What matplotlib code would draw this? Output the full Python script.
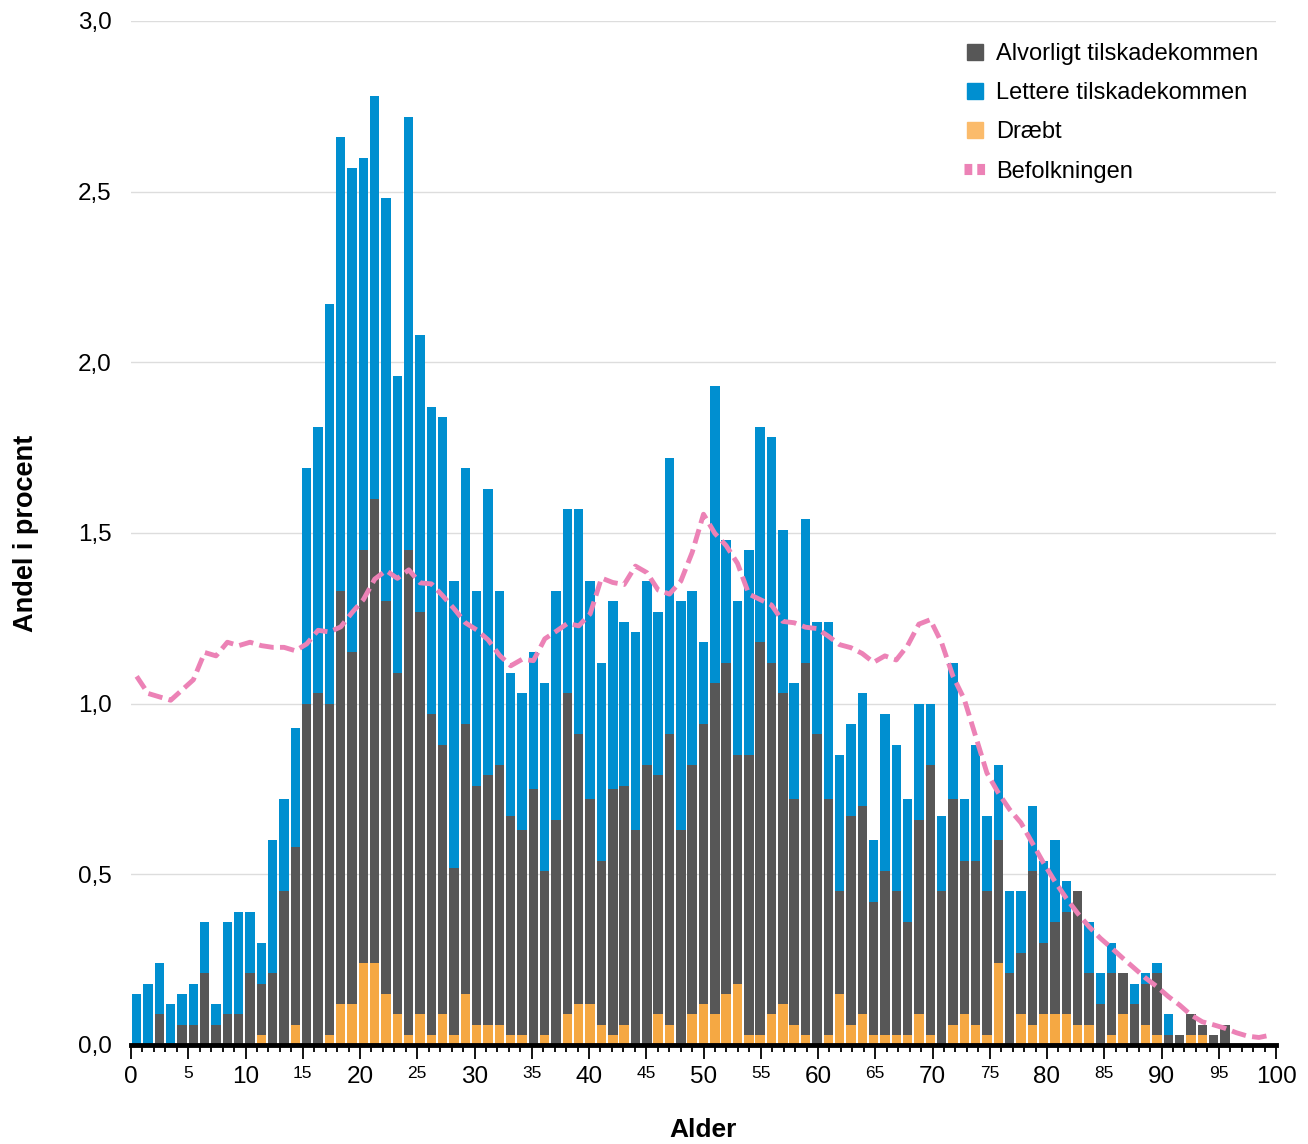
import numpy as np
import matplotlib
matplotlib.use("Agg")
import matplotlib.pyplot as plt
from matplotlib.lines import Line2D

plt.rcParams['font.family'] = ['Liberation Sans', 'DejaVu Sans']

# ages 0..100
ages = np.arange(101)

# Lettere tilskadekommen (andel i procent)
lettere = [0.15, 0.18, 0.24, 0.12, 0.15, 0.18, 0.36, 0.12, 0.36, 0.39,
           0.39, 0.30, 0.60, 0.72, 0.93, 1.69, 1.81, 2.17, 2.66, 2.57,
           2.60, 2.78, 2.48, 1.96, 2.72, 2.08, 1.87, 1.84, 1.36, 1.69,
           1.33, 1.63, 1.33, 1.09, 1.03, 1.15, 1.06, 1.33, 1.57, 1.57,
           1.36, 1.12, 1.30, 1.24, 1.21, 1.36, 1.27, 1.72, 1.30, 1.33,
           1.18, 1.93, 1.48, 1.30, 1.45, 1.81, 1.78, 1.51, 1.06, 1.54,
           1.24, 1.24, 0.85, 0.94, 1.03, 0.60, 0.97, 0.88, 0.72, 1.00,
           1.00, 0.67, 1.12, 0.72, 0.88, 0.67, 0.82, 0.45, 0.45, 0.70,
           0.54, 0.60, 0.48, 0.42, 0.36, 0.21, 0.30, 0.18, 0.18, 0.21,
           0.24, 0.09, 0.00, 0.06, 0.06, 0.00, 0.06, 0.00, 0.00, 0.00,
           0.00]

# Alvorligt tilskadekommen
alvorligt = [0.00, 0.00, 0.09, 0.00, 0.06, 0.06, 0.21, 0.06, 0.09, 0.09,
             0.21, 0.18, 0.21, 0.45, 0.58, 1.00, 1.03, 1.00, 1.33, 1.15,
             1.45, 1.60, 1.30, 1.09, 1.45, 1.27, 0.97, 0.88, 0.52, 0.94,
             0.76, 0.79, 0.82, 0.67, 0.63, 0.75, 0.51, 0.66, 1.03, 0.91,
             0.72, 0.54, 0.75, 0.76, 0.63, 0.82, 0.79, 0.91, 0.63, 0.82,
             0.94, 1.06, 1.12, 0.85, 0.85, 1.18, 1.12, 1.03, 0.72, 1.12,
             0.91, 0.72, 0.45, 0.67, 0.70, 0.42, 0.51, 0.45, 0.36, 0.66,
             0.82, 0.45, 0.72, 0.54, 0.54, 0.45, 0.60, 0.21, 0.27, 0.51,
             0.30, 0.36, 0.39, 0.45, 0.21, 0.12, 0.21, 0.21, 0.12, 0.18,
             0.21, 0.03, 0.03, 0.09, 0.06, 0.03, 0.06, 0.00, 0.00, 0.00,
             0.00]

# Dræbt
draebt = [0.00, 0.00, 0.00, 0.00, 0.00, 0.00, 0.00, 0.00, 0.00, 0.00,
          0.00, 0.03, 0.00, 0.00, 0.06, 0.00, 0.00, 0.03, 0.12, 0.12,
          0.24, 0.24, 0.15, 0.09, 0.03, 0.09, 0.03, 0.09, 0.03, 0.15,
          0.06, 0.06, 0.06, 0.03, 0.03, 0.00, 0.03, 0.00, 0.09, 0.12,
          0.12, 0.06, 0.03, 0.06, 0.00, 0.00, 0.09, 0.06, 0.00, 0.09,
          0.12, 0.09, 0.15, 0.18, 0.03, 0.03, 0.09, 0.12, 0.06, 0.03,
          0.00, 0.03, 0.15, 0.06, 0.09, 0.03, 0.03, 0.03, 0.03, 0.09,
          0.03, 0.00, 0.06, 0.09, 0.06, 0.03, 0.24, 0.00, 0.09, 0.06,
          0.09, 0.09, 0.09, 0.06, 0.06, 0.00, 0.03, 0.09, 0.00, 0.06,
          0.03, 0.00, 0.00, 0.03, 0.03, 0.00, 0.00, 0.00, 0.00, 0.00,
          0.00]

# Befolkningen
befolkning = [1.08, 1.03, 1.02, 1.01, 1.04, 1.07, 1.15, 1.14, 1.18, 1.17,
              1.18, 1.17, 1.165, 1.165, 1.155, 1.175, 1.215, 1.21, 1.225, 1.267,
              1.305, 1.365, 1.39, 1.367, 1.392, 1.354, 1.351, 1.316, 1.278, 1.237,
              1.216, 1.187, 1.142, 1.111, 1.13, 1.126, 1.19, 1.212, 1.235, 1.228,
              1.263, 1.368, 1.355, 1.349, 1.403, 1.384, 1.333, 1.321, 1.359, 1.443,
              1.555, 1.499, 1.463, 1.411, 1.321, 1.305, 1.289, 1.241, 1.237, 1.224,
              1.22, 1.198, 1.173, 1.164, 1.147, 1.121, 1.14, 1.128, 1.17, 1.233,
              1.246, 1.179, 1.081, 1.013, 0.905, 0.797, 0.739, 0.69, 0.651, 0.592,
              0.533, 0.479, 0.43, 0.386, 0.347, 0.313, 0.284, 0.254, 0.225, 0.196,
              0.171, 0.142, 0.117, 0.088, 0.068, 0.059, 0.049, 0.036, 0.026, 0.022,
              0.029]

c_dark = '#575757'
c_blue = '#008fd0'
c_orange = '#f5a843'
c_pink = '#ec82b6'

fig = plt.figure(figsize=(13.08, 11.44), dpi=100)
ax = fig.add_axes([131 / 1308, 1 - 1045 / 1144, 1145 / 1308, 1024 / 1144])

# bars sit in 101 bands spread over the 0-100 axis
pos = (ages + 0.5) * 100 / 101
w = 0.82

ax.bar(pos, lettere, width=w, color=c_blue, zorder=2)
ax.bar(pos, alvorligt, width=w, color=c_dark, zorder=3)
ax.bar(pos, draebt, width=w, color=c_orange, zorder=4)
ax.plot(pos, befolkning, color=c_pink, lw=3.5, dashes=(3, 1.3), zorder=5)

ax.set_xlim(0, 100)
ax.set_ylim(0, 3.0)

ax.set_yticks(np.arange(0, 3.01, 0.5))
ax.set_yticklabels([f"{v:.1f}".replace('.', ',') for v in np.arange(0, 3.01, 0.5)],
                   fontsize=17.5)
ax.tick_params(axis='y', length=0, pad=14)
ax.yaxis.grid(True, color='#dddddd', lw=1.0, zorder=0)
ax.set_axisbelow(True)

ax.set_xticks(range(0, 101, 5))
ax.set_xticklabels([str(v) for v in range(0, 101, 5)])
for v, lab in zip(range(0, 101, 5), ax.get_xticklabels()):
    lab.set_fontsize(17.5 if v % 10 == 0 else 12.5)
ax.set_xticks(range(0, 101), minor=True)
ax.tick_params(axis='x', which='major', length=10, width=1.3, pad=5, color='black')
ax.tick_params(axis='x', which='minor', length=5, width=1.3, color='black')

for s in ['left', 'top', 'right']:
    ax.spines[s].set_visible(False)
ax.spines['bottom'].set_linewidth(3.5)
ax.spines['bottom'].set_zorder(6)

ax.set_ylabel("Andel i procent", fontsize=19.5, fontweight='bold', labelpad=28)
ax.set_xlabel("Alder", fontsize=19, fontweight='bold', labelpad=22)

handles = [
    Line2D([], [], marker='s', ls='none', color=c_dark, markersize=12),
    Line2D([], [], marker='s', ls='none', color=c_blue, markersize=12),
    Line2D([], [], marker='s', ls='none', color='#fbbb6b', markersize=12),
    Line2D([], [], color=c_pink, lw=8, dashes=(0.7, 0.45), solid_capstyle='butt'),
]
labels = ["Alvorligt tilskadekommen", "Lettere tilskadekommen", "Dræbt", "Befolkningen"]
ax.legend(handles, labels, loc='upper right', bbox_to_anchor=(1.0, 0.996),
          frameon=False, fontsize=17, handlelength=0.9, handletextpad=0.45,
          labelspacing=0.73, borderaxespad=0.35)

fig.savefig("out.png", dpi=100)
